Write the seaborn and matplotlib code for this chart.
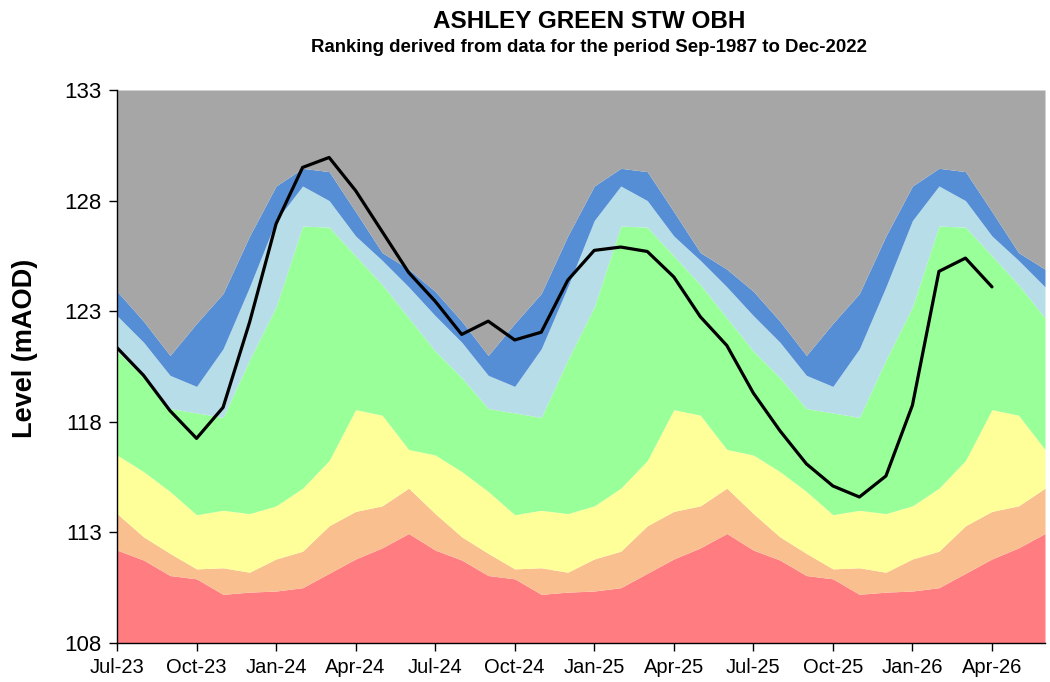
import numpy as np
import pandas as pd
import matplotlib
matplotlib.use("Agg")
import matplotlib.pyplot as plt
import seaborn as sns

# ---- data ----
months = ["Jul-23", "Aug-23", "Sep-23", "Oct-23", "Nov-23", "Dec-23",
          "Jan-24", "Feb-24", "Mar-24", "Apr-24", "May-24", "Jun-24",
          "Jul-24", "Aug-24", "Sep-24", "Oct-24", "Nov-24", "Dec-24",
          "Jan-25", "Feb-25", "Mar-25", "Apr-25", "May-25", "Jun-25",
          "Jul-25", "Aug-25", "Sep-25", "Oct-25", "Nov-25", "Dec-25",
          "Jan-26", "Feb-26", "Mar-26", "Apr-26", "May-26", "Jun-26"]

# monthly band boundaries (calendar months Jul..Jun), same every year
red_top = [112.2, 111.75, 111.05, 110.9, 110.2, 110.3, 110.35, 110.5, 111.15, 111.8, 112.3, 112.95]
salmon_top = [113.85, 112.8, 112.05, 111.35, 111.4, 111.2, 111.8, 112.15, 113.3, 113.95, 114.2, 115.0]
yellow_top = [116.5, 115.75, 114.85, 113.8, 114.0, 113.85, 114.2, 115.0, 116.25, 118.55, 118.3, 116.75]
green_top = [121.2, 120.0, 118.6, 118.4, 118.2, 120.8, 123.2, 126.85, 126.8, 125.5, 124.2, 122.7]
lightblue_top = [122.8, 121.6, 120.1, 119.6, 121.3, 124.1, 127.1, 128.66, 128.0, 126.4, 125.3, 124.1]
blue_top = [123.9, 122.55, 121.0, 122.45, 123.8, 126.4, 128.66, 129.46, 129.31, 127.5, 125.65, 124.9]
gray_top = 133.0

level_months = months[:34]
level = [121.35, 120.1, 118.5, 117.25, 118.65, 122.5, 126.95, 129.5, 129.95, 128.45, 126.6, 124.75,
         123.45, 121.95, 122.55, 121.7, 122.05, 124.4, 125.75, 125.9, 125.7, 124.55, 122.75, 121.45,
         119.3, 117.6, 116.1, 115.1, 114.6, 115.55, 118.75, 124.8, 125.4, 124.1]

yticks = [108, 113, 118, 123, 128, 133]
xtick_labels = months[::3][:12]

# ---- figure ----
sns.set_theme(style="white")
fam = ["Liberation Sans", "DejaVu Sans"]
plt.rcParams["font.family"] = fam
plt.rcParams["text.color"] = "black"
plt.rcParams["axes.labelcolor"] = "black"
plt.rcParams["xtick.color"] = "black"
plt.rcParams["ytick.color"] = "black"

fig = plt.figure(figsize=(10.5, 6.82), dpi=100)
ax = fig.add_axes([117 / 1050, 1 - 643 / 682, (1045 - 117) / 1050, (643 - 90) / 682])

n_years = len(months) // 12
x = np.arange(len(months))
bounds = [np.full(len(months), 108.0)]
for b in [red_top, salmon_top, yellow_top, green_top, lightblue_top, blue_top]:
    bounds.append(np.array(b * n_years))
bounds.append(np.full(len(months), gray_top))

colors = ["#FF7C80", "#F9BF8F", "#FFFF99", "#99FF99", "#B7DDE8", "#558ED5", "#A6A6A6"]
for i, c in enumerate(colors):
    ax.fill_between(x, bounds[i], bounds[i + 1], color=c, linewidth=0)

df = pd.DataFrame({"x": np.arange(len(level)), "level": level})
sns.lineplot(data=df, x="x", y="level", ax=ax, color="black", linewidth=2.3)

ax.set_xlim(0, len(months) - 1)
ax.set_ylim(108, 133)
ax.set_yticks(yticks)
ax.set_yticklabels([str(v) for v in yticks], fontsize=16)
ax.set_xticks(np.arange(0, 34, 3))
ax.set_xticklabels(xtick_labels, fontsize=14.5)
ax.set_xlabel("")
ax.set_ylabel("Level (mAOD)", fontsize=19.5, fontweight="bold")
ax.yaxis.set_label_coords(-0.085, 0.532)

for s in ["top", "right"]:
    ax.spines[s].set_visible(False)
for s in ["left", "bottom"]:
    ax.spines[s].set_color("black")
    ax.spines[s].set_linewidth(1.0)
ax.tick_params(axis="both", which="major", direction="out", length=6, width=1,
               color="black", bottom=True, left=True, pad=5, labelcolor="black")
ax.grid(False)

fig.text(589 / 1050, 1 - 22 / 682, "ASHLEY GREEN STW OBH", ha="center", va="center",
         fontsize=17.5, fontweight="bold")
fig.text(589 / 1050, 1 - 47 / 682, "Ranking derived from data for the period Sep-1987 to Dec-2022",
         ha="center", va="center", fontsize=13.4, fontweight="bold")

fig.savefig("out.png", dpi=100)
